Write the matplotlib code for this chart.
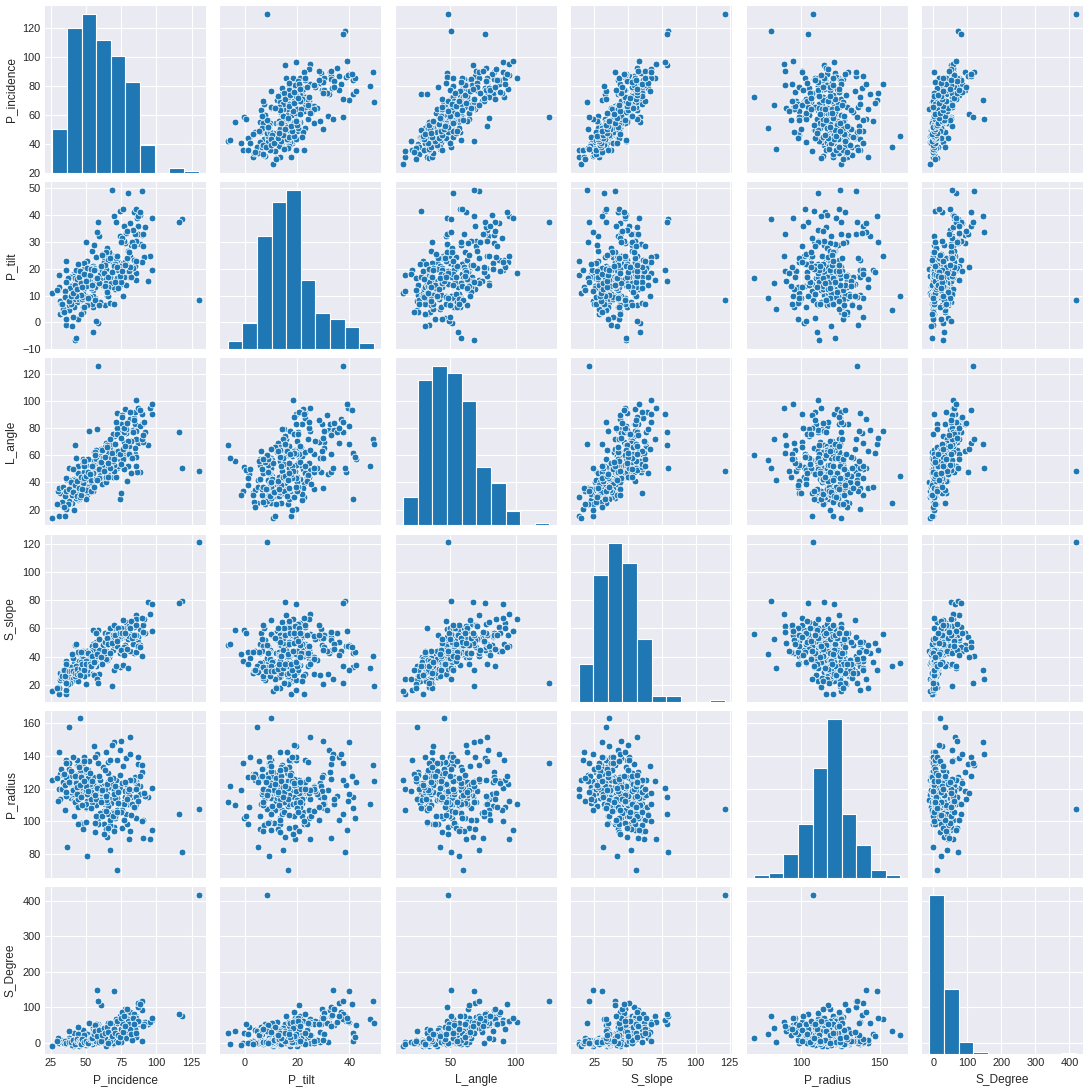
import matplotlib
matplotlib.use("Agg")
import matplotlib.pyplot as plt
import seaborn as sns

# valores, una lista por variable, misma fila = mismo paciente
P_incidence = [
    63.03, 39.06, 68.83, 69.3, 49.71, 40.25, 53.43, 45.37, 43.79, 36.69,
    49.71, 31.23, 48.92, 53.57, 57.3, 44.32, 63.83, 31.28, 38.7, 41.73,
    43.92, 54.92, 63.07, 45.54, 36.13, 54.12, 26.15, 43.58, 44.55, 66.88,
    50.82, 46.39, 44.94, 38.66, 59.6, 31.48, 32.09, 35.7, 55.84, 52.42,
    35.49, 46.44, 53.85, 66.29, 56.03, 50.91, 48.33, 41.35, 40.56, 41.77,
    55.29, 74.43, 50.21, 30.15, 41.17, 47.66, 43.35, 46.86, 43.2, 48.11,
    74.38, 89.68, 44.53, 77.69, 76.15, 83.93, 78.49, 75.65, 72.08, 58.6,
    72.56, 86.9, 84.97, 55.51, 72.22, 70.22, 86.75, 58.78, 67.41, 47.74,
    77.11, 74.01, 88.62, 81.1, 76.33, 45.44, 59.79, 44.91, 56.61, 71.19,
    81.66, 70.95, 85.35, 58.1, 94.17, 57.52, 96.66, 74.72, 77.66, 58.52,
    84.59, 79.94, 70.4, 49.78, 77.41, 65.01, 65.01, 78.43, 63.17, 68.61,
    63.9, 85, 42.02, 69.76, 80.99, 129.83, 70.48, 86.04, 65.54, 60.75,
    54.74, 83.88, 80.07, 65.67, 74.72, 48.06, 70.68, 80.43, 90.51, 77.24,
    50.07, 69.78, 69.63, 81.75, 52.2, 77.12, 88.02, 83.4, 72.05, 85.1,
    69.56, 89.5, 85.29, 60.63, 60.04, 85.64, 85.58, 55.08, 65.76, 79.25,
    81.11, 48.03, 63.4, 57.29, 41.19, 66.8, 79.48, 44.22, 57.04, 64.27,
    92.03, 67.26, 118.14, 115.92, 53.94, 83.7, 56.99, 72.34, 95.38, 44.25,
    64.81, 78.4, 56.67, 50.83, 61.41, 56.56, 67.03, 80.82, 80.65, 68.72,
    37.9, 64.62, 75.44, 71, 81.06, 91.47, 38.51, 54.92, 44.36, 48.32,
    45.7, 30.74, 50.91, 38.13, 51.62, 64.31, 44.49, 54.95, 56.1, 69.4,
    89.83, 59.73, 63.96, 61.54, 38.05, 43.44, 65.61, 53.91, 43.12, 40.68,
    37.73, 63.93, 61.82, 62.14, 69, 56.45, 41.65, 51.53, 33.79, 54.5,
    47.81, 46.24, 53.68, 45.25, 33.84, 64.26, 47.32, 50.75, 63.79, 74.98,
    42.52, 36.16, 40.75, 42.92, 72.96, 67.54, 54.75, 50.68, 48.17, 46.37,
    52.86, 57.15, 37.14, 51.31, 39.36, 35.88, 43.19, 67.29, 51.33, 65.76,
    40.41, 48.8, 50.09, 48.9, 59.17, 82.91, 49.83, 58.83,
    33.0, 34.6, 35.5, 29.8, 36.2, 38.0, 39.5, 41.0, 42.3, 43.5,
    44.0, 45.0, 45.8, 46.2, 46.6, 47.5, 48.6, 50.2, 51.4, 52.6,
    53.3, 54.6, 55.7, 56.5, 58.0, 59.2, 60.5, 61.5, 62.8, 63.7,
    64.9, 65.8, 66.9, 68.5, 69.7, 70.8, 71.8, 72.9, 73.8, 74.9,
    75.6, 76.4, 77.0, 77.7, 79.1, 87.2, 88.0, 97.0, 84.0, 90.5,
    82.0, 85.5,
]
P_tilt = [
    22.55, 10.06, 22.22, 24.65, 9.65, 13.92, 15.86, 10.76, 13.53, 5.01,
    13.04, 17.72, 19.96, 20.46, 24.19, 12.54, 20.36, 3.14, 13.44, 12.25,
    14.18, 21.06, 24.41, 13.07, 22.76, 26.65, 10.76, 16.51, 21.93, 24.89,
    15.4, 11.08, 17.44, 12.99, 32, 7.83, 6.99, 19.44, 28.85, 19.01,
    11.7, 8.4, 19.23, 26.33, 16.3, 23.02, 22.23, 16.58, 17.98, 17.9,
    20.44, 41.56, 29.76, 11.92, 17.32, 13.28, 7.47, 15.35, 19.66, 14.93,
    32.05, 32.7, 9.43, 21.38, 21.94, 41.29, 22.18, 19.34, 18.95, -0.26,
    17.39, 32.93, 33.02, 20.1, 23.08, 39.82, 36.04, 7.67, 17.44, 12.09,
    30.47, 21.12, 29.09, 24.79, 42.4, 9.91, 17.88, 10.22, 16.8, 23.9,
    28.75, 20.16, 15.84, 14.84, 15.38, 33.65, 19.46, 19.76, 22.43, 13.92,
    30.36, 18.77, 13.47, 6.47, 29.4, 27.6, 9.84, 33.43, 6.33, 15.08,
    13.71, 29.61, -6.55, 19.28, 36.84, 8.4, 12.49, 38.75, 24.16, 15.75,
    12.1, 23.08, 48.07, 10.54, 14.32, 5.69, 21.7, 17, 28.27, 16.74,
    9.12, 13.78, 21.12, 20.12, 17.21, 30.35, 39.84, 34.31, 24.7, 21.07,
    15.4, 48.9, 18.28, 20.6, 14.31, 42.32, 30.46, -3.76, 9.83, 23.94,
    20.69, 3.97, 14.12, 15.15, 5.79, 14.55, 26.73, 1.51, 0.35, 12.51,
    35.39, 7.19, 38.45, 37.52, 9.31, 20.27, 6.87, 16.42, 24.82, 1.1,
    15.17, 14.04, 13.46, 9.06, 25.38, 8.96, 13.28, 19.24, 26.34, 49.43,
    4.48, 15.23, 31.54, 37.52, 20.8, 24.51, 16.96, 18.97, 8.95, 17.45,
    10.66, 13.35, 6.68, 6.56, 15.97, 26.33, 21.79, 5.87, 13.11, 18.9,
    22.64, 7.72, 16.06, 19.68, 8.3, 10.1, 23.14, 12.94, 13.82, 9.15,
    9.39, 19.97, 13.6, 13.96, 13.29, 19.44, 8.84, 13.52, 3.68, 6.82,
    10.69, 10.06, 13.45, 8.69, 5.07, 14.5, 8.57, 20.24, 21.35, 14.92,
    16.54, -0.81, 1.84, -5.85, 19.58, 14.66, 9.75, 6.46, 9.59, 10.22,
    9.41, 16.49, 16.48, 8.88, 7.01, 1.11, 9.98, 16.72, 13.63, 13.21,
    -1.33, 18.02, 13.43, 5.59, 14.56, 29.89, 16.74, 37.58,
    7.0, 4.0, 9.5, 12.0, 15.0, 8.0, 10.0, 11.0, 14.0, 16.0,
    12.5, 17.0, 19.0, 14.5, 3.0, 13.0, 18.0, 15.5, 9.0, 17.5,
    20.0, 14.0, 19.5, 8.5, 16.5, 6.5, 21.0, 25.0, 18.5, 13.5,
    11.5, 16.8, 24.0, 18.8, 7.0, 15.2, 20.5, 12.8, 17.2, 30.0,
    19.0, 10.0, 36.0, 21.2, 34.0, 39.5, 41.0, 39.0, 28.5, 33.0,
    17.0, 23.0,
]
L_angle = [
    39.61, 25.02, 50.09, 44.31, 28.32, 25.12, 37.17, 29.04, 42.69, 41.95,
    31.33, 15.5, 40.26, 33.1, 47, 36.1, 54.55, 32.56, 31, 30.12,
    37.83, 42.2, 54, 30.3, 29, 35.33, 14, 47, 26.79, 49.28,
    42.53, 32.14, 27.78, 40, 46.56, 24.28, 36, 20.7, 47.69, 35.87,
    15.59, 29.04, 32.78, 47.5, 62.28, 47, 36.18, 30.71, 34, 20.03,
    34, 27.7, 36.1, 34, 33.47, 36.68, 28.07, 38, 35, 35.56,
    78.77, 83.13, 52, 64.43, 82.96, 62, 60, 64.15, 51, 51.5,
    52, 47.79, 60.86, 44, 91, 68.12, 69.22, 53.34, 60.14, 39,
    69.48, 57.38, 47.56, 77.89, 57.2, 45, 59.21, 44.63, 42, 43.7,
    58.23, 62.86, 71.67, 79.65, 67.71, 50.91, 90.21, 82.74, 93.89, 41.47,
    65.48, 63.31, 61.2, 53, 63.23, 50.95, 57.74, 76.28, 63, 63.01,
    62.12, 83.35, 67.9, 48.5, 86.96, 48.38, 62.42, 47.87, 45.78, 43.2,
    41, 87.14, 52.4, 56.49, 32.5, 57.06, 59.18, 66.54, 69.81, 49.78,
    32.17, 58, 52.77, 70.56, 78.09, 77.48, 81.77, 78.42, 79.87, 91.73,
    74.44, 72, 100.74, 64.54, 58.04, 58.85, 78.23, 56, 50.82, 40.8,
    60.69, 34.46, 48.14, 64, 42.87, 72.08, 70.65, 46.11, 49.2, 68.7,
    77.42, 51.7, 50.84, 76.8, 43.1, 77.11, 57.01, 59.87, 95.16, 38,
    58.84, 79.69, 43.77, 56.3, 39.1, 52.58, 66.15, 61.64, 60.9, 68.06,
    24.71, 67.63, 89.6, 84.54, 91.78, 84.62, 35.11, 51.6, 46.9, 48,
    42.58, 35.9, 30.9, 50.45, 35, 50.96, 31.47, 53, 62.64, 75.97,
    90.56, 55.34, 63.12, 52.89, 26.24, 36.03, 62.58, 39, 40.35, 31.02,
    42, 40.18, 64, 58, 55.57, 43.58, 36.03, 35, 25.5, 47,
    54, 37, 41.58, 41.58, 36.64, 43.9, 35.56, 37, 66, 53.73,
    42, 33.63, 50, 58, 61.01, 58, 47, 35, 39.71, 42.7,
    46.99, 42.84, 24, 57, 37, 43.46, 28.94, 51, 33.26, 44,
    30.98, 52, 34.46, 55.5, 43.2, 58.25, 28, 125.74,
    26, 22, 30, 24, 34, 35, 40, 33, 38, 30,
    41, 36, 29, 44, 31, 35.5, 43, 45, 48, 46,
    34, 52, 37, 60, 42, 50, 55, 64, 48.5, 59,
    66, 54, 72, 62, 57, 68, 76, 63, 61, 73,
    88, 65, 80, 67, 84, 95, 93, 98, 86, 75,
    47, 52,
]
S_slope = [
    40.48, 29, 46.61, 44.64, 40.06, 26.33, 37.57, 34.61, 30.26, 31.68,
    36.67, 13.52, 28.95, 33.11, 33.11, 31.78, 43.47, 28.13, 25.25, 29.48,
    29.74, 33.86, 38.66, 32.47, 13.37, 27.47, 15.39, 27.07, 22.62, 41.99,
    35.42, 35.31, 27.5, 25.68, 27.6, 23.66, 25.1, 16.26, 27, 33.41,
    23.79, 38.05, 34.62, 39.96, 39.73, 27.9, 26.1, 24.78, 22.58, 23.87,
    34.85, 32.88, 20.45, 18.23, 23.85, 34.38, 35.88, 31.5, 23.54, 33.18,
    42.32, 56.98, 35.1, 56.31, 54.21, 42.65, 56.31, 56.31, 53.13, 58.86,
    55.18, 53.97, 51.95, 35.42, 49.14, 30.4, 50.71, 51.12, 49.97, 35.66,
    46.64, 52.88, 59.53, 56.31, 33.93, 35.54, 41.91, 34.7, 39.81, 47.29,
    52.91, 50.79, 69.51, 43.26, 78.79, 23.88, 77.2, 54.96, 55.22, 44.6,
    54.22, 61.16, 56.93, 43.32, 48.01, 37.41, 55.18, 45, 56.84, 53.53,
    50.19, 55.39, 48.58, 50.48, 44.14, 121.43, 57.99, 47.29, 41.38, 45,
    42.65, 60.8, 32.01, 55.12, 60.4, 42.37, 48.97, 63.43, 62.24, 60.5,
    40.95, 56, 48.5, 61.63, 34.99, 46.77, 48.18, 49.09, 47.35, 64.03,
    54.16, 40.6, 67.01, 40.03, 45.73, 43.32, 55.12, 58.84, 55.93, 55.31,
    60.42, 44.06, 49.29, 42.14, 35.39, 52.25, 52.74, 42.71, 56.69, 51.77,
    56.63, 60.07, 79.7, 78.41, 44.63, 63.43, 50.12, 55.92, 70.56, 43.15,
    49.64, 64.36, 43.21, 41.76, 36.03, 47.6, 53.75, 61.58, 54.31, 19.29,
    33.42, 49.4, 43.9, 33.49, 60.26, 66.96, 21.54, 35.95, 35.42, 30.87,
    35.04, 17.39, 44.24, 31.57, 35.66, 37.98, 22.7, 49.09, 42.99, 50.5,
    67.2, 52, 47.9, 41.86, 29.74, 33.34, 42.47, 40.97, 29.3, 31.53,
    28.35, 43.96, 48.22, 48.18, 55.71, 37, 32.81, 38.01, 30.11, 47.68,
    37.12, 36.18, 40.23, 36.56, 28.77, 49.76, 38.75, 30.52, 42.45, 60.05,
    25.98, 36.97, 38.91, 48.76, 53.38, 52.88, 45, 44.22, 38.58, 36.16,
    43.45, 40.66, 20.66, 42.44, 32.35, 34.77, 33.22, 50.57, 37.69, 52.55,
    41.74, 30.78, 36.66, 43.31, 44.6, 53.01, 33.09, 21.25,
    26.0, 30.6, 26.0, 17.8, 21.2, 30.0, 29.5, 30.0, 28.3, 27.5,
    31.5, 28.0, 26.8, 31.7, 43.6, 34.5, 30.6, 34.7, 42.4, 34.8,
    33.3, 40.6, 36.2, 48.0, 41.5, 52.7, 39.5, 34.6, 44.3, 50.2,
    53.4, 49.0, 42.9, 49.7, 62.7, 55.6, 51.3, 60.1, 56.6, 44.9,
    56.6, 66.4, 41.0, 56.5, 45.1, 47.7, 47.0, 58.0, 55.5, 57.5,
    65.0, 62.5,
]
P_radius = [
    98.67, 114.41, 105.99, 101.87, 108.17, 130.33, 120.57, 117.27, 125, 84.24,
    108.65, 120.06, 119.32, 110.97, 116.81, 124.12, 112.31, 129.01, 123.16, 116.59,
    134.46, 125.21, 106.42, 117.98, 115.58, 121.45, 125.2, 109.27, 111.07, 113.48,
    112.19, 98.77, 117.98, 124.91, 119.33, 113.83, 132.26, 137.54, 123.31, 116.56,
    106.94, 115.48, 121.67, 121.22, 114.02, 117.42, 117.38, 113.27, 121.05, 118.36,
    115.88, 107.95, 128.29, 112.68, 116.38, 98.25, 112.78, 116.25, 124.85, 124.06,
    143.56, 129.96, 134.71, 114.82, 123.93, 115.01, 118.53, 95.9, 114.21, 102.04,
    119.19, 135.08, 125.66, 122.65, 137.74, 148.53, 139.41, 98.5, 111.12, 117.51,
    112.15, 120.21, 121.76, 151.84, 124.27, 163.07, 119.32, 130.08, 127.29, 119.86,
    114.77, 116.18, 124.42, 113.59, 114.89, 140.98, 120.67, 109.36, 123.06, 115.51,
    108.01, 114.79, 102.34, 110.86, 118.45, 116.58, 94.74, 138.55, 110.64, 123.43,
    114.13, 126.91, 111.59, 96.49, 141.09, 107.69, 114.19, 122.09, 136.44, 113.05,
    117.64, 124.65, 110.71, 109.16, 107.18, 95.44, 103.01, 116.44, 100.89, 110.69,
    99.71, 118.93, 116.8, 119.43, 136.97, 110.61, 116.6, 110.47, 107.17, 109.06,
    105.07, 134.63, 110.66, 117.23, 105.13, 102.19, 114.87, 109.92, 104.39, 98.62,
    94.02, 125.35, 111.92, 116.74, 103.35, 82.46, 118.59, 108.63, 103.05, 95.25,
    115.72, 97.8, 81.02, 104.7, 124.4, 125.48, 109.98, 70.08, 89.31, 98.27,
    111.68, 104.73, 93.69, 79, 103.4, 98.78, 100.72, 89.47, 120.1, 125.02,
    157.85, 90.3, 106.83, 125.16, 125.43, 117.31, 127.63, 125.85, 129.22, 128.98,
    130.18, 142.41, 118.15, 132.11, 129.39, 106.18, 113.78, 126.97, 116.23, 103.58,
    100.5, 125.17, 142.36, 118.69, 123.8, 137.44, 124.13, 118.19, 128.52, 139.12,
    135.74, 113.07, 121.78, 133.28, 126.61, 139.19, 116.56, 126.72, 128.33, 111.79,
    125.39, 128.06, 113.91, 118.55, 123.95, 115.39, 120.58, 122.34, 119.55, 105.65,
    120.63, 135.94, 139.25, 121.61, 111.23, 123.63, 123.04, 116.59, 135.62, 121.25,
    123.09, 113.81, 125.01, 126.47, 117.82, 126.92, 123.47, 137.59, 131.31, 129.39,
    119.34, 139.15, 119.13, 137.11, 121.04, 110.71, 121.44, 135.63,
    120, 129, 122, 126.5, 118, 124, 131, 119, 128, 121,
    117, 133, 122.5, 115, 127, 110, 124.5, 132, 118.5, 129.5,
    108, 125, 146, 116, 120.5, 127.5, 112, 119.5, 92, 131.5,
    123, 96, 126.2, 147, 94, 121.5, 106, 118.2, 128.5, 149,
    123.8, 134, 101, 124.2, 114, 112.5, 128, 95, 109, 90,
    104, 120,
]
S_Degree = [
    -0.25, 4.56, -3.53, 11.21, 7.92, 2.23, 5.99, -10.68, 13.29, 0.66,
    -7.83, 0.5, 8.03, 7.04, 5.77, 5.42, -0.62, 3.62, 1.43, -1.24,
    6.45, 2.43, 15.78, -4.99, -3.24, 1.57, -10.09, 8.99, 2.65, -2.01,
    10.87, 6.39, 5.57, 2.7, 1.47, 4.39, 6.41, -0.26, 2.81, 1.69,
    -3.46, 2.05, 5.33, -0.8, -2.33, -2.53, 6.48, -4.5, -1.54, 2.06,
    3.56, 5, 5.74, 11.46, -9.57, 6.27, 5.75, 1.66, -2.92, 7.95,
    56.13, 92.03, 29.11, 26.93, 10.43, 26.59, 27.38, 69.55, 1.01, 28.06,
    32.11, 101.72, 74.33, 34.55, 56.8, 145.38, 110.86, 51.58, 33.16, 21.68,
    70.76, 74.56, 51.81, 65.21, 50.13, 20.32, 22.12, 37.36, 24.02, 27.28,
    30.61, 32.52, 76.02, 50.24, 53.26, 148.75, 64.08, 33.31, 61.21, 30.39,
    25.12, 38.54, 25.54, 25.34, 93.56, 7.02, 49.7, 77.16, 42.61, 39.5,
    41.42, 71.32, 27.34, 51.17, 85.87, 418.54, 56.9, 61.99, 16.38, 31.69,
    40.38, 80.56, 67.73, 53.93, 37.02, 32.84, 27.81, 57.78, 58.82, 39.79,
    26.77, 17.91, 54.82, 55.51, 54.94, 82.09, 56.77, 49.67, 56.43, 38.03,
    29.7, 118.35, 58.88, 104.86, 30.41, 16.71, 68.38, 31.77, 39.31, 36.71,
    40.51, 35.26, 31.78, 30.34, 27.66, 41.69, 61.7, 42.81, 52.17, 39.41,
    58.06, 42.14, 74.04, 81.2, 25.08, 69.28, 36.81, 12.07, 57.66, 23.91,
    21.41, 12.39, 21.11, 23.04, 21.84, 50.7, 33.99, 44.17, 52.47, 54.69,
    33.61, 31.33, 54.97, 67.77, 38.18, 52.62, 7.99, 2, 4.99, -0.91,
    -3.39, -2.01, -1.06, 6.34, 1.01, 3.12, -0.28, -0.63, 31.17, -0.44,
    3.04, 3.24, 6.3, 4.82, 3.89, -3.11, -4.08, 5.07, 0.97, -2.51,
    13.68, -11.06, 1.3, 4.96, 10.83, -1.86, -0.76, 13.93, -1.78, -4.41,
    -0.4, -5.1, 2.74, 0.21, -0.2, 5.95, 1.63, 2.29, 12.38, 1.59,
    7.88, -2.09, 0.67, -3.36, 0.81, 25.97, 8.24, -0.21, 5.36, -0.54,
    1.86, 5.02, 7.37, -2.14, 1.9, -1.63, 1.74, 4.96, 1.79, -1.98,
    -6.17, 10.44, 3.09, 19.85, 2.83, 6.08, 1.91, 117.31,
    1.0, -1.5, 3.0, 5.0, -2.0, 2.5, 0.5, 6.0, -3.0, 4.0,
    9.0, 3.5, 1.5, 7.0, -4.0, 10.0, 2.0, 5.5, 0.0, 8.5,
    12.0, 14.0, 25.0, 33.0, 18.0, 36.0, 4.5, 20.0, 40.0, 28.0,
    44.0, 30.0, 55.0, 17.0, 38.0, 26.0, 62.0, 22.0, 15.0, 70.0,
    85.0, 29.0, 75.5, 48.0, 96.0, 60.0, 110.0, 68.0, 52.0, 46.0,
    24.0, 28.0,
]

nombres = ["P_incidence", "P_tilt", "L_angle", "S_slope", "P_radius", "S_Degree"]
columnas = [P_incidence, P_tilt, L_angle, S_slope, P_radius, S_Degree]

ticks_x = [
    [25, 50, 75, 100, 125], [0, 20, 40], [50, 100],
    [25, 50, 75, 100, 125], [100, 150], [0, 100, 200, 300, 400],
]
ticks_y = [
    [20, 40, 60, 80, 100, 120], [-10, 0, 10, 20, 30, 40, 50], [20, 40, 60, 80, 100, 120],
    [20, 40, 60, 80, 100, 120], [80, 100, 120, 140, 160], [0, 100, 200, 300, 400],
]

AZUL = "#1f77b4"

sns.set_style("darkgrid")
plt.rcParams["font.family"] = ["Liberation Sans", "DejaVu Sans"]

fig, axes = plt.subplots(6, 6, figsize=(10.9, 10.9), dpi=100, sharex="col", sharey="row")
fig.subplots_adjust(left=45 / 1090, right=1083 / 1090, top=1 - 6 / 1090, bottom=1 - 1054 / 1090,
                    wspace=14.6 / 161, hspace=9.2 / 167)

for i in range(6):
    for j in range(6):
        ax = axes[i, j]
        if i == j:
            # el histograma va en un eje gemelo, asi no toca la escala de la fila
            ax.scatter(columnas[j], columnas[i], s=0)
            gemelo = ax.twinx()
            gemelo.hist(columnas[i], bins=10, color=AZUL, edgecolor="white", linewidth=0.8)
            gemelo.grid(False)
            gemelo.set_yticks([])
            for spine in gemelo.spines.values():
                spine.set_visible(False)
        else:
            ax.scatter(columnas[j], columnas[i], s=24, color=AZUL, edgecolor="white", linewidth=0.55)
        ax.set_xticks(ticks_x[j])
        ax.set_yticks(ticks_y[i])
        ax.tick_params(length=0, labelsize=7.9, labelcolor=".15", pad=3)
        ax.grid(True, color="white", linewidth=0.8)
        for spine in ax.spines.values():
            spine.set_visible(False)
        if j == 0:
            ax.set_ylabel(nombres[i], fontsize=8.6, color=".15")
        if i == 5:
            ax.set_xlabel(nombres[j], fontsize=8.6, color=".15")

fig.savefig("out.png", dpi=100)
